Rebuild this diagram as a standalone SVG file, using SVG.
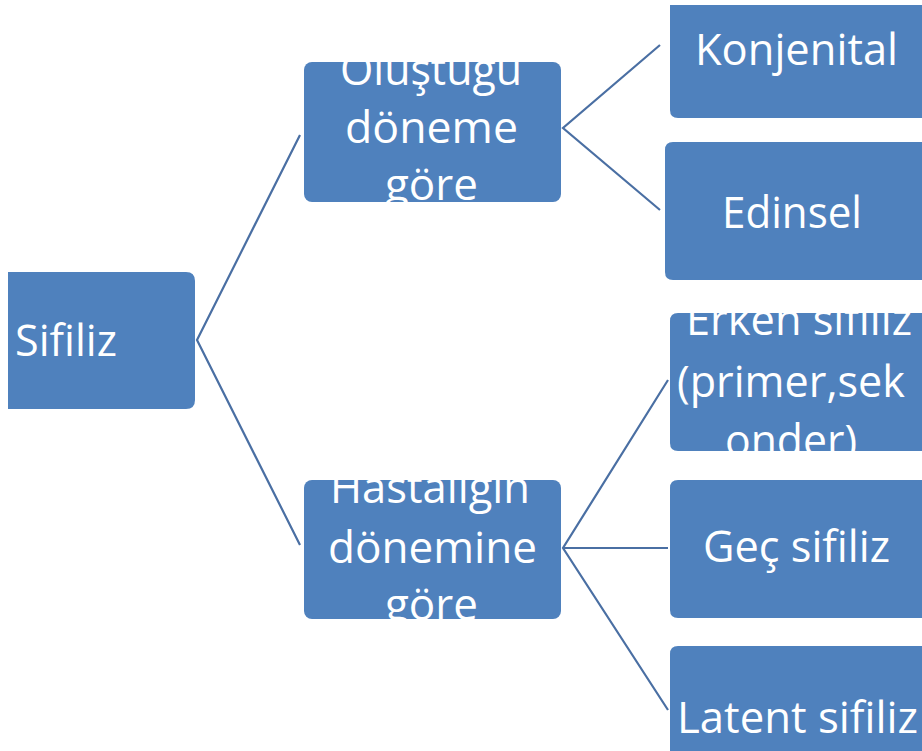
<svg xmlns="http://www.w3.org/2000/svg" width="922" height="751" viewBox="0 0 922 751">
<style>
.box{fill:#4f81bd;}
.t{fill:#ffffff;font-family:"Open Sans","Noto Sans","Liberation Sans",sans-serif;font-size:44px;}
.c{stroke:#4a6fa3;stroke-width:2.2;fill:none;}
</style>
<defs>
<clipPath id="cpA"><rect x="304" y="62" width="257" height="140" rx="8"/></clipPath>
<clipPath id="cpB"><rect x="304" y="480" width="257" height="139" rx="8"/></clipPath>
<clipPath id="cpE"><rect x="670" y="313" width="252" height="138" rx="8"/></clipPath>
</defs>
<rect width="922" height="751" fill="#ffffff"/>
<g id="connectors">
<polyline class="c" points="300,135 197,340 300,545"/>
<polyline class="c" points="660,45 563,128 660,210"/>
<polyline class="c" points="668,380 563,548 668,710"/>
<line class="c" x1="563" y1="548" x2="668" y2="548"/>
</g>
<g id="sifiliz">
<path class="box" d="M8,272 H186 Q195,272 195,281 V400 Q195,409 186,409 H8 Z"/>
<text class="t" x="15" y="356" font-size="40" textLength="102" lengthAdjust="spacingAndGlyphs">Sifiliz</text>
</g>
<g id="olustugu">
<rect class="box" x="304" y="62" width="257" height="140" rx="8"/>
<g clip-path="url(#cpA)">
<text class="t" x="340" y="85" textLength="182" lengthAdjust="spacingAndGlyphs">Oluştuğu</text>
<text class="t" x="345" y="143" textLength="173" lengthAdjust="spacingAndGlyphs">döneme</text>
<text class="t" x="385" y="200" textLength="93" lengthAdjust="spacingAndGlyphs">göre</text>
</g>
</g>
<g id="hastaligin">
<rect class="box" x="304" y="480" width="257" height="139" rx="8"/>
<g clip-path="url(#cpB)">
<text class="t" x="330" y="503" textLength="200" lengthAdjust="spacingAndGlyphs">Hastalığın</text>
<text class="t" x="328" y="563" textLength="209" lengthAdjust="spacingAndGlyphs">dönemine</text>
<text class="t" x="385" y="620" textLength="93" lengthAdjust="spacingAndGlyphs">göre</text>
</g>
</g>
<g id="konjenital">
<path class="box" d="M670,5 H922 V118 H678 Q670,118 670,110 Z"/>
<text class="t" x="695" y="65" textLength="203" lengthAdjust="spacingAndGlyphs">Konjenital</text>
</g>
<g id="edinsel">
<path class="box" d="M673,142 H922 V280 H673 Q665,280 665,272 V150 Q665,142 673,142 Z"/>
<text class="t" x="722" y="228" textLength="140" lengthAdjust="spacingAndGlyphs">Edinsel</text>
</g>
<g id="erken">
<path class="box" d="M678,313 H922 V451 H678 Q670,451 670,443 V321 Q670,313 678,313 Z"/>
<g clip-path="url(#cpE)">
<text class="t" x="686" y="335" textLength="226" lengthAdjust="spacingAndGlyphs">Erken sifiliz</text>
<text class="t" x="677" y="397" textLength="228" lengthAdjust="spacingAndGlyphs">(primer,sek</text>
<text class="t" x="725" y="456" textLength="132" lengthAdjust="spacingAndGlyphs">onder)</text>
</g>
</g>
<g id="gec">
<path class="box" d="M678,480 H922 V618 H678 Q670,618 670,610 V488 Q670,480 678,480 Z"/>
<text class="t" x="703" y="562" textLength="187" lengthAdjust="spacingAndGlyphs">Geç sifiliz</text>
</g>
<g id="latent">
<path class="box" d="M678,646 H922 V751 H670 V654 Q670,646 678,646 Z"/>
<text class="t" x="677" y="733" textLength="241" lengthAdjust="spacingAndGlyphs">Latent sifiliz</text>
</g>
</svg>
